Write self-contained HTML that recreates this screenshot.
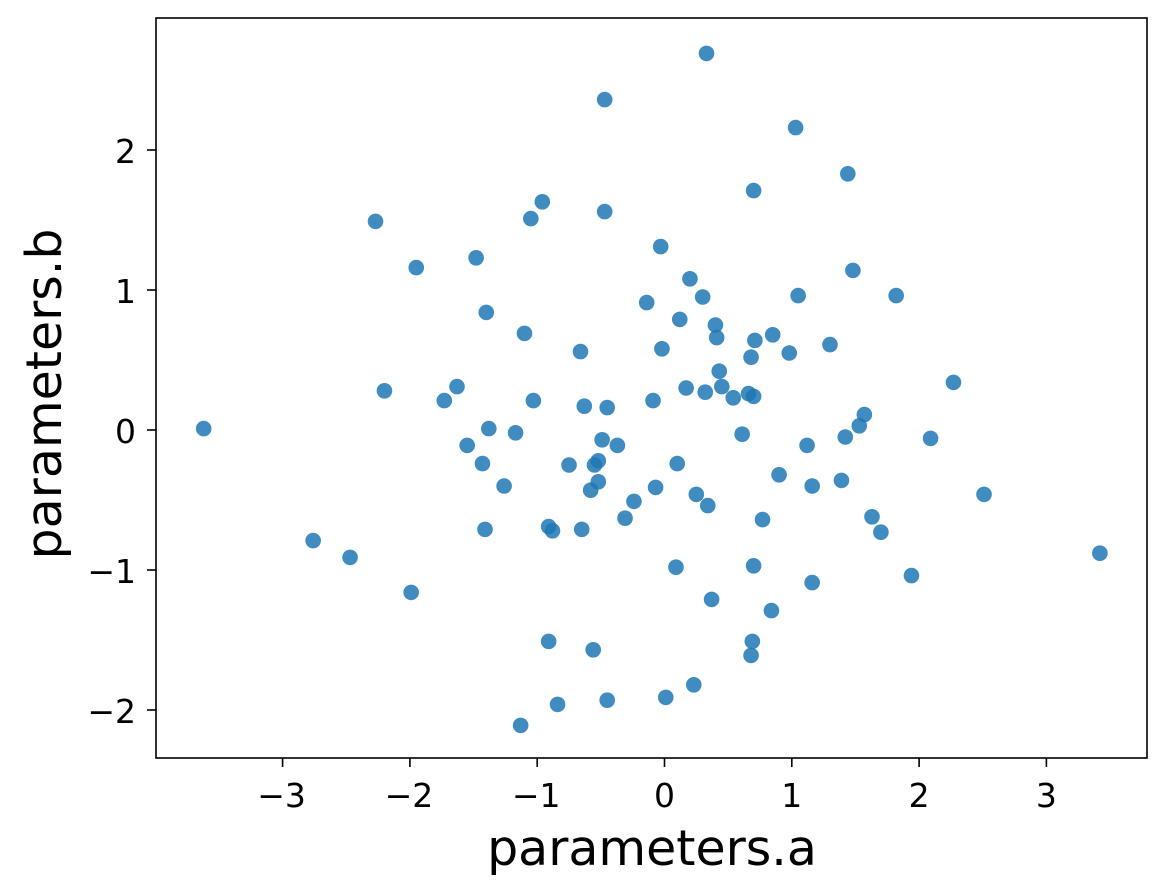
<!DOCTYPE html>
<html><head><meta charset="utf-8"><style>
html,body{margin:0;padding:0;background:#fff;}
svg{display:block;font-family:"DejaVu Sans","Liberation Sans",sans-serif;}
</style></head><body>
<svg id="chart" width="1167" height="895" viewBox="0 0 1167 895" xmlns="http://www.w3.org/2000/svg">
<rect x="156" y="18" width="991" height="740" fill="#fff"/>
<g id="points"></g>
<rect x="156" y="18" width="991" height="740" fill="none" stroke="#000" stroke-width="1.6"/>
<g id="xaxis"></g>
<g id="yaxis"></g>
<text x="652" y="865" font-size="49" text-anchor="middle">parameters.a</text>
<text transform="translate(61,394) rotate(-90)" font-size="49" text-anchor="middle">parameters.b</text>
</svg>
<script>
const aValues=[-3.62,-2.76,-2.47,-1.99,-2.27,-2.20,-1.95,-1.73,-1.63,-1.55,-1.48,-1.43,-1.40,-1.38,-1.41,-1.26,-1.17,-1.10,-1.05,-1.03,-0.96,-1.13,-0.91,-0.88,-0.91,-0.84,-0.75,-0.66,-0.65,-0.63,-0.58,-0.56,-0.55,-0.52,-0.52,-0.49,-0.47,-0.47,-0.45,-0.45,-0.37,-0.31,-0.24,-0.14,-0.09,-0.07,-0.03,-0.02,0.01,0.09,0.10,0.12,0.17,0.20,0.23,0.25,0.30,0.32,0.33,0.34,0.37,0.40,0.41,0.43,0.45,0.54,0.61,0.66,0.68,0.68,0.69,0.70,0.70,0.70,0.71,0.77,0.84,0.85,0.90,0.98,1.03,1.05,1.12,1.16,1.16,1.30,1.39,1.42,1.44,1.48,1.53,1.57,1.63,1.70,1.82,1.94,2.09,2.27,2.51,3.42];
const bValues=[0.01,-0.79,-0.91,-1.16,1.49,0.28,1.16,0.21,0.31,-0.11,1.23,-0.24,0.84,0.01,-0.71,-0.40,-0.02,0.69,1.51,0.21,1.63,-2.11,-0.69,-0.72,-1.51,-1.96,-0.25,0.56,-0.71,0.17,-0.43,-1.57,-0.25,-0.22,-0.37,-0.07,2.36,1.56,0.16,-1.93,-0.11,-0.63,-0.51,0.91,0.21,-0.41,1.31,0.58,-1.91,-0.98,-0.24,0.79,0.30,1.08,-1.82,-0.46,0.95,0.27,2.69,-0.54,-1.21,0.75,0.66,0.42,0.31,0.23,-0.03,0.26,0.52,-1.61,-1.51,-0.97,0.24,1.71,0.64,-0.64,-1.29,0.68,-0.32,0.55,2.16,0.96,-0.11,-0.40,-1.09,0.61,-0.36,-0.05,1.83,1.14,0.03,0.11,-0.62,-0.73,0.96,-1.04,-0.06,0.34,-0.46,-0.88];
const xTicks=[-3,-2,-1,0,1,2,3];
const yTicks=[-2,-1,0,1,2];
const xTickLabels=["\u22123","\u22122","\u22121","0","1","2","3"];
const yTickLabels=["\u22122","\u22121","0","1","2"];

const NS="http://www.w3.org/2000/svg";
function xs(v){return 664.5+v*127.3;}
function ys(v){return 430-v*140;}
const pts=document.getElementById('points');
for(let i=0;i<aValues.length;i++){
  const c=document.createElementNS(NS,'circle');
  c.setAttribute('cx',xs(aValues[i]));c.setAttribute('cy',ys(bValues[i]));
  c.setAttribute('r',7.8);c.setAttribute('fill','#1f77b4');c.setAttribute('fill-opacity','0.85');
  
  
  pts.appendChild(c);
}
const xa=document.getElementById('xaxis');
xTicks.forEach((t,i)=>{
  const l=document.createElementNS(NS,'line');
  l.setAttribute('x1',xs(t));l.setAttribute('x2',xs(t));l.setAttribute('y1',758);l.setAttribute('y2',767);
  l.setAttribute('stroke','#000');l.setAttribute('stroke-width','1.6');
  
  
  xa.appendChild(l);
  const tx=document.createElementNS(NS,'text');
  tx.setAttribute('x',xs(t)+(t<0?-1:0));tx.setAttribute('y',807);tx.setAttribute('font-size','33');tx.setAttribute('text-anchor','middle');
  tx.textContent=xTickLabels[i];
  
  
  xa.appendChild(tx);
});
const ya=document.getElementById('yaxis');
yTicks.forEach((t,i)=>{
  const l=document.createElementNS(NS,'line');
  l.setAttribute('x1',147);l.setAttribute('x2',156);l.setAttribute('y1',ys(t));l.setAttribute('y2',ys(t));
  l.setAttribute('stroke','#000');l.setAttribute('stroke-width','1.6');
  
  
  ya.appendChild(l);
  const tx=document.createElementNS(NS,'text');
  tx.setAttribute('x',136);tx.setAttribute('y',ys(t)+13);tx.setAttribute('font-size','33');tx.setAttribute('text-anchor','end');
  tx.textContent=yTickLabels[i];
  
  
  ya.appendChild(tx);
});
</script>
</body></html>
